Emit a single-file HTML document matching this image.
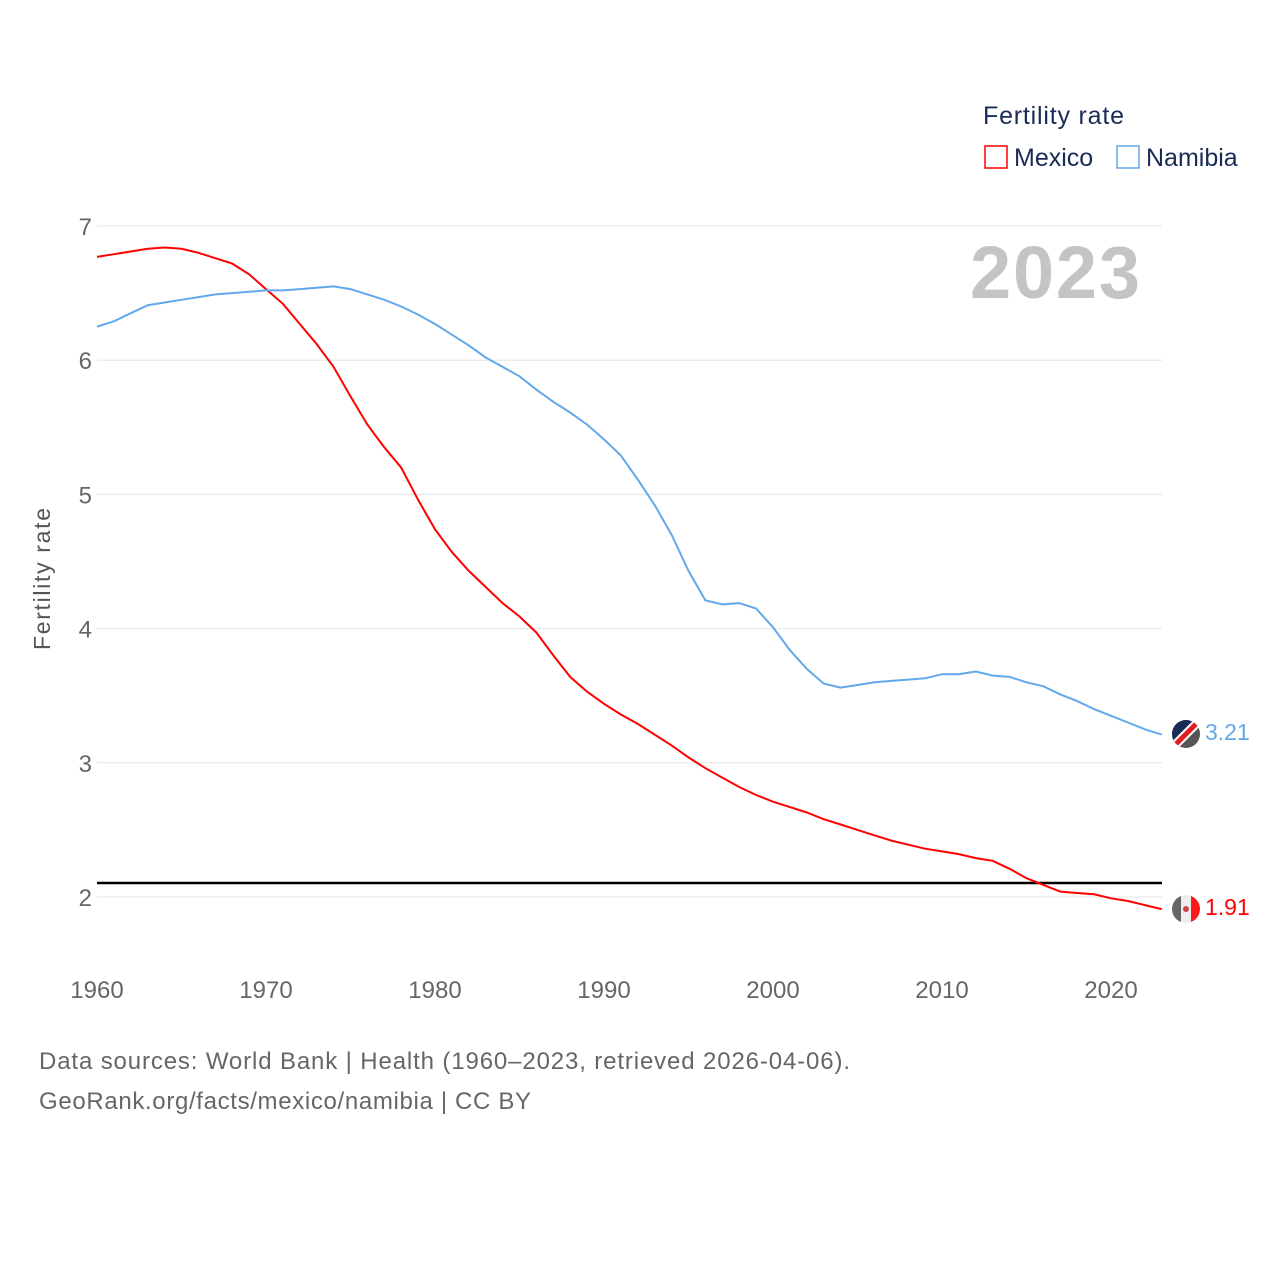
<!DOCTYPE html>
<html><head><meta charset="utf-8"><style>
body{margin:0;background:#fff;font-family:"Liberation Sans",sans-serif}
svg text{font-family:"Liberation Sans",sans-serif}
</style></head><body>
<svg width="1280" height="1280" xmlns="http://www.w3.org/2000/svg">
<g id="grid"></g>
<g id="yticks"></g>
<g id="xticks"></g>
<text x="1140" y="298" text-anchor="end" font-size="74" font-weight="bold" fill="#c4c4c4" textLength="170">2023</text>
<text transform="translate(50,579) rotate(-90)" text-anchor="middle" font-size="23" fill="#555" textLength="142">Fertility rate</text>
<line x1="97" x2="1162" y1="883" y2="883" stroke="#000" stroke-width="2.5"/>
<path id="mex" fill="none" stroke="#ff0000" stroke-width="2"/>
<path id="nam" fill="none" stroke="#63a8ea" stroke-width="2"/>
<g><clipPath id="c1"><circle cx="1186" cy="734" r="14"/></clipPath>
<g clip-path="url(#c1)"><rect x="1172" y="720" width="28" height="28" fill="#555"/><polygon points="1172,720 1200,720 1172,748" fill="#1a2b55"/><line x1="1172" y1="748" x2="1200" y2="720" stroke="#fff" stroke-width="9"/><line x1="1172" y1="748" x2="1200" y2="720" stroke="#e02020" stroke-width="5"/></g></g>
<text x="1205" y="740" font-size="23" fill="#63a8ea">3.21</text>
<g><clipPath id="c2"><circle cx="1186" cy="909" r="14"/></clipPath>
<g clip-path="url(#c2)"><rect x="1172" y="895" width="28" height="28" fill="#eee"/><rect x="1172" y="895" width="9" height="28" fill="#666"/><rect x="1191" y="895" width="9" height="28" fill="#ff1a1a"/><circle cx="1186" cy="909" r="3" fill="#c44"/></g></g>
<text x="1205" y="915" font-size="23" fill="#ff0000">1.91</text>
<text x="983" y="124" font-size="25" fill="#1a2b55" textLength="141">Fertility rate</text>
<rect x="985" y="146" width="22" height="22" fill="none" stroke="#ff0000" stroke-width="1.5"/>
<text x="1014" y="166" font-size="25" fill="#1a2b55">Mexico</text>
<rect x="1117" y="146" width="22" height="22" fill="none" stroke="#63a8ea" stroke-width="1.5"/>
<text x="1146" y="166" font-size="25" fill="#1a2b55">Namibia</text>
<text x="39" y="1069" font-size="24" fill="#666" textLength="811">Data sources: World Bank | Health (1960–2023, retrieved 2026-04-06).</text>
<text x="39" y="1109" font-size="24" fill="#666" textLength="492">GeoRank.org/facts/mexico/namibia | CC BY</text>
</svg>
<script>
const startYear = 1960;
const mexico = [6.77,6.79,6.81,6.83,6.84,6.83,6.80,6.76,6.72,6.64,6.53,6.42,6.27,6.12,5.95,5.73,5.52,5.35,5.20,4.96,4.74,4.57,4.43,4.31,4.19,4.09,3.97,3.80,3.64,3.53,3.44,3.36,3.29,3.21,3.13,3.04,2.96,2.89,2.82,2.76,2.71,2.67,2.63,2.58,2.54,2.50,2.46,2.42,2.39,2.36,2.34,2.32,2.29,2.27,2.21,2.14,2.09,2.04,2.03,2.02,1.99,1.97,1.94,1.91];
const namibia = [6.25,6.29,6.35,6.41,6.43,6.45,6.47,6.49,6.50,6.51,6.52,6.52,6.53,6.54,6.55,6.53,6.49,6.45,6.40,6.34,6.27,6.19,6.11,6.02,5.95,5.88,5.78,5.69,5.61,5.52,5.41,5.29,5.11,4.92,4.70,4.43,4.21,4.18,4.19,4.15,4.01,3.84,3.70,3.59,3.56,3.58,3.60,3.61,3.62,3.63,3.66,3.66,3.68,3.65,3.64,3.60,3.57,3.51,3.46,3.40,3.35,3.30,3.25,3.21];
const yTicks = [2,3,4,5,6,7];
const xTicks = [1960,1970,1980,1990,2000,2010,2020];
const X = y => 97 + (y - 1960) * 16.9;
const Y = v => 897 - (v - 2) * 134.2;
const NS = "http://www.w3.org/2000/svg";
const grid = document.getElementById('grid'), yt = document.getElementById('yticks'), xt = document.getElementById('xticks');
yTicks.forEach(v => {
  const l = document.createElementNS(NS,'line');
  
  
  l.setAttribute('x1',97); l.setAttribute('x2',1162); l.setAttribute('y1',Y(v)); l.setAttribute('y2',Y(v));
  l.setAttribute('stroke','#e6e6e6'); l.setAttribute('stroke-width','1');
  grid.appendChild(l);
  const t = document.createElementNS(NS,'text');
  
  
  t.setAttribute('x',92); t.setAttribute('y',Y(v)+9); t.setAttribute('text-anchor','end');
  t.setAttribute('font-size','24'); t.setAttribute('fill','#666'); t.textContent = v;
  yt.appendChild(t);
});
xTicks.forEach(v => {
  const t = document.createElementNS(NS,'text');
  
  
  t.setAttribute('x',X(v)); t.setAttribute('y',998); t.setAttribute('text-anchor','middle');
  t.setAttribute('font-size','24'); t.setAttribute('fill','#666'); t.textContent = v;
  xt.appendChild(t);
});
const path = arr => arr.map((v,i) => (i?'L':'M') + X(startYear+i).toFixed(1) + ',' + Y(v).toFixed(1)).join('');
document.getElementById('mex').setAttribute('d', path(mexico));
document.getElementById('nam').setAttribute('d', path(namibia));
</script>
</body></html>
